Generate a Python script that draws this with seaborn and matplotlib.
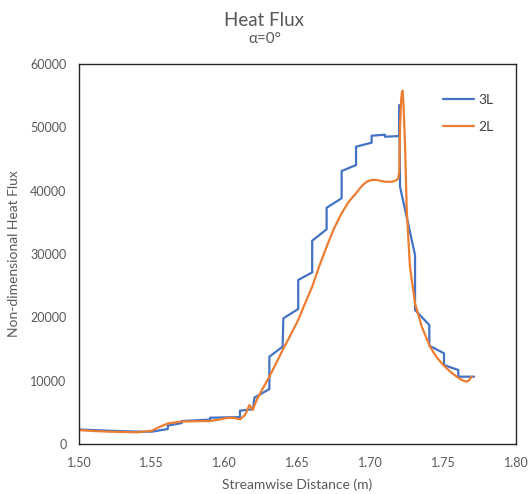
import numpy as np
import pandas as pd
import matplotlib
matplotlib.use("Agg")
import matplotlib.pyplot as plt
import seaborn as sns

# 3L curve (stepped)
x_3l = [1.500, 1.520, 1.540, 1.550, 1.561, 1.561, 1.5705, 1.5705, 1.590, 1.590,
        1.6105, 1.6105, 1.6195, 1.6204, 1.6307, 1.6307, 1.6398, 1.6403,
        1.6505, 1.6505, 1.6601, 1.6601, 1.670, 1.670, 1.6803, 1.6803,
        1.6902, 1.6902, 1.7009, 1.7009, 1.710, 1.710, 1.7199, 1.7199,
        1.7204, 1.7307, 1.7307, 1.7405, 1.7405, 1.7506, 1.7506, 1.7604,
        1.7604, 1.7712]
y_3l = [2300, 2100, 1950, 1950, 2370, 2900, 3300, 3630, 3850, 4150,
        4250, 5260, 5500, 7310, 8680, 13790, 15370, 19840,
        21320, 25900, 27100, 32100, 33900, 37300, 38800, 43100,
        44050, 46950, 47580, 48680, 48840, 48520, 48630, 53530,
        40630, 29840, 21160, 18790, 15530, 14320, 12470, 11680,
        10630, 10630]

# 2L curve (smooth)
x_2l = [1.500, 1.510, 1.520, 1.530, 1.540, 1.5499, 1.5556, 1.5613, 1.5705,
        1.580, 1.590, 1.5960, 1.6014, 1.6060, 1.6105, 1.614, 1.617, 1.6192,
        1.622, 1.6260, 1.6307, 1.6350, 1.6398, 1.6450, 1.6505, 1.6550,
        1.6601, 1.6650, 1.670, 1.675, 1.6803, 1.6850, 1.6902, 1.6940,
        1.6974, 1.7010, 1.7043, 1.710, 1.7150, 1.7181, 1.7192, 1.7199,
        1.7204, 1.7212, 1.7218, 1.7222, 1.7228, 1.7238, 1.7250, 1.7272,
        1.7307, 1.7353, 1.741, 1.7455, 1.7501, 1.7550, 1.7593, 1.7630,
        1.7657, 1.7675, 1.7696]
y_2l = [2200, 2050, 1950, 1900, 1850, 2100, 2730, 3260, 3550,
        3600, 3630, 3850, 4100, 4150, 3890, 4580, 6160, 5370,
        6950, 8700, 10630, 12600, 14840, 17100, 19580, 22100,
        24840, 28100, 31150, 34000, 36430, 38200, 39590, 40700,
        41420, 41700, 41690, 41420, 41400, 41690, 41950, 43000,
        50100, 54500, 55700, 55790, 53500, 47470, 36950, 28000,
        22210, 18520, 15370, 13700, 12470, 11400, 10630, 10100,
        9840, 10000, 10630]

df3 = pd.DataFrame({"x": x_3l, "y": y_3l, "series": "3L"})
df2 = pd.DataFrame({"x": x_2l, "y": y_2l, "series": "2L"})
df = pd.concat([df3, df2], ignore_index=True)

sns.set_style("white")
plt.rcParams["font.family"] = ["Lato", "DejaVu Sans"]
grey = "#595959"

fig = plt.figure(figsize=(5.29, 4.94), dpi=100)
ax = fig.add_axes([0.1493, 0.1012, 0.8261, 0.7692])

sns.lineplot(data=df, x="x", y="y", hue="series", sort=False, estimator=None,
             palette={"3L": "#4472C4", "2L": "#ED7D31"}, linewidth=1.6, ax=ax)

ax.set_xlim(1.50, 1.80)
ax.set_ylim(0, 60000)
ax.set_xticks(np.arange(1.50, 1.801, 0.05))
ax.set_xticklabels([f"{v:.2f}" for v in np.arange(1.50, 1.801, 0.05)])
ax.set_yticks(range(0, 60001, 10000))
ax.tick_params(axis="both", length=0, labelsize=9, colors=grey)
ax.tick_params(axis="x", pad=9)
ax.tick_params(axis="y", pad=9)
for s in ax.spines.values():
    s.set_color("#262626")
    s.set_linewidth(1.0)

ax.set_xlabel("Streamwise Distance (m)", fontsize=10, color=grey, labelpad=7)
ax.set_ylabel("Non-dimensional Heat Flux", fontsize=10, color=grey, labelpad=7)

leg = ax.legend(loc="upper left", bbox_to_anchor=(0.805, 0.955), frameon=False,
                fontsize=10, handlelength=2.2, labelspacing=1.1, handletextpad=0.3)
for t in leg.get_texts():
    t.set_color("#404040")

fig.text(0.5, 0.975, "Heat Flux", ha="center", va="top", fontsize=13.5, color=grey)
fig.text(0.5, 0.935, "α=0°", ha="center", va="top", fontsize=11, color=grey)

fig.savefig("out.png", dpi=100)
